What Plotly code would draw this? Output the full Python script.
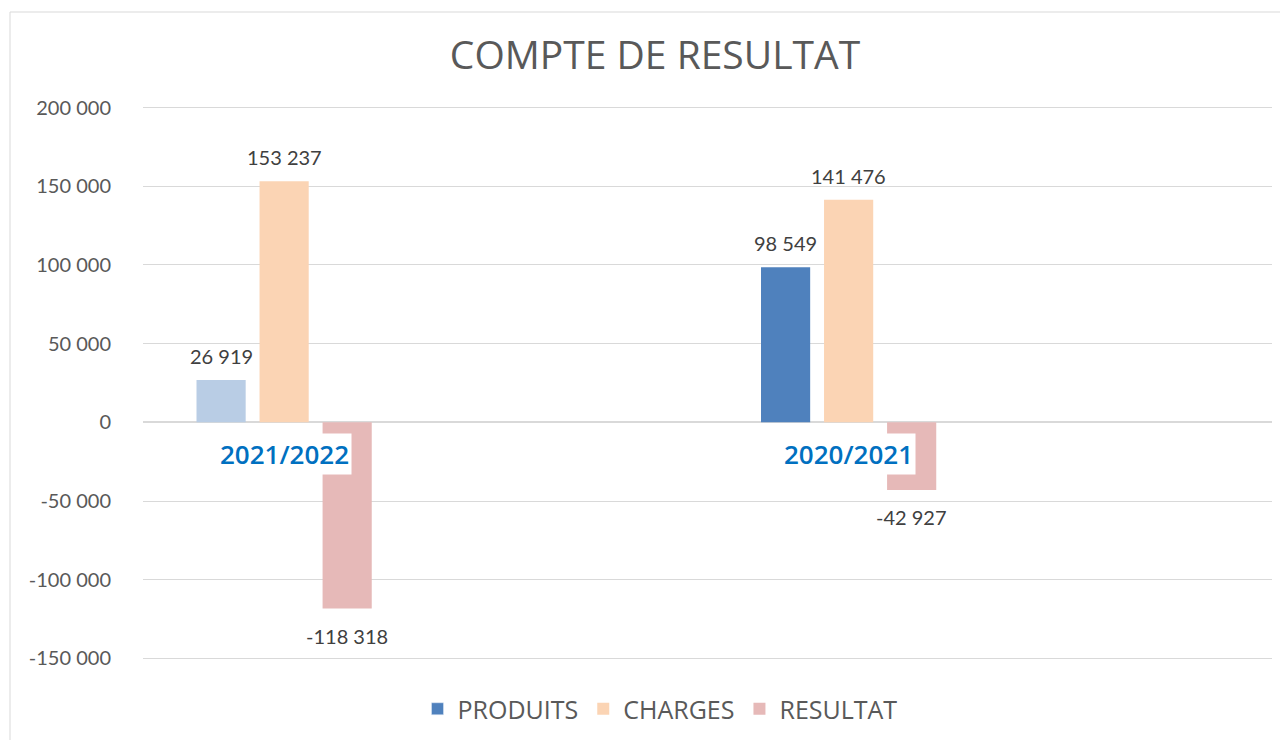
import plotly.graph_objects as go

categories = ["2021/2022", "2020/2021"]
series_names = ["PRODUITS", "CHARGES", "RESULTAT"]
produits = [26919, 98549]
charges = [153237, 141476]
resultat = [-118318, -42927]
tick_vals = [200000, 150000, 100000, 50000, 0, -50000, -100000, -150000]
tick_text = ["200 000", "150 000", "100 000", "50 000", "0", "-50 000", "-100 000", "-150 000"]

produits_colors = ["#B9CDE5", "#4F81BD"]
series_colors = ["#4F81BD", "#FBD4B4", "#E6B9B8"]
series_values = [produits, charges, resultat]


def fmt(v):
    s = f"{abs(v):,}".replace(",", " ")
    return ("-" if v < 0 else "") + s


W, H = 1280, 732
ML, MR, MT, MB = 135, 16, 98, 80
PW, PH = W - ML - MR, H - MT - MB

fig = go.Figure()
# legend entry for PRODUITS in its main colour (no bars drawn)
fig.add_trace(go.Bar(
    x=categories, y=[None] * len(categories), name=series_names[0],
    offsetgroup="s0", marker=dict(color=series_colors[0]), hoverinfo="skip",
))
for i, (name, vals) in enumerate(zip(series_names, series_values)):
    mcolor = produits_colors if i == 0 else series_colors[i]
    fig.add_trace(go.Bar(
        x=categories, y=vals, name=name, offsetgroup=f"s{i}",
        marker=dict(color=mcolor, line=dict(width=0)),
        showlegend=(i != 0), hoverinfo="skip",
    ))

annotations = []
slot = 63
for i, vals in enumerate(series_values):
    for c, v in zip(categories, vals):
        annotations.append(dict(
            x=c, y=v, xref="x", yref="y", text=fmt(v), showarrow=False,
            xshift=(i - 1) * slot, yshift=24 if v >= 0 else -27,
            yanchor="middle", xanchor="center",
            font=dict(family="Lato", size=20, color="#404040"),
        ))
for c in categories:
    annotations.append(dict(
        x=c, y=0, xref="x", yref="y", text=c, showarrow=False,
        yshift=-32, yanchor="middle", xanchor="center",
        bgcolor="#FFFFFF", borderpad=2,
        font=dict(family="Open Sans", size=26, color="#0070C0", weight=600),
    ))

fig.update_layout(
    width=W, height=H, autosize=False,
    paper_bgcolor="#FFFFFF", plot_bgcolor="#FFFFFF",
    margin=dict(l=ML, r=MR, t=MT, b=MB, autoexpand=False),
    barmode="group", bargap=0.665, bargroupgap=0.22,
    title=dict(text="COMPTE DE RESULTAT", x=(655 - 8) / W, xanchor="center",
               y=1 - 47 / H, yanchor="middle", yref="container",
               font=dict(family="Open Sans", size=39, color="#595959")),
    xaxis=dict(type="category", range=[-0.25, 1.75], showticklabels=False,
               showgrid=False, zeroline=False, showline=False),
    yaxis=dict(range=[-151000, 201000], tickvals=tick_vals, ticktext=tick_text,
               showgrid=True, gridcolor="#D9D9D9", gridwidth=1,
               zeroline=True, zerolinecolor="#D9D9D9", zerolinewidth=1.5,
               showline=False, ticks="", ticklabelstandoff=31,
               tickfont=dict(family="Lato", size=20, color="#595959")),
    legend=dict(orientation="h", x=(652 - ML) / PW, xanchor="center",
                y=(H - MB - 701) / PH, yanchor="middle",
                font=dict(family="Open Sans", size=25, color="#595959"),
                itemwidth=30, traceorder="normal"),
    annotations=annotations,
    shapes=[dict(type="rect", xref="paper", yref="paper",
                 x0=(2 - ML) / PW, x1=1.2, y0=-0.3, y1=(H - MB - 4) / PH,
                 line=dict(color="#D9D9D9", width=1), fillcolor="rgba(0,0,0,0)",
                 layer="below")],
    showlegend=True,
)

fig.write_html("out.html")
